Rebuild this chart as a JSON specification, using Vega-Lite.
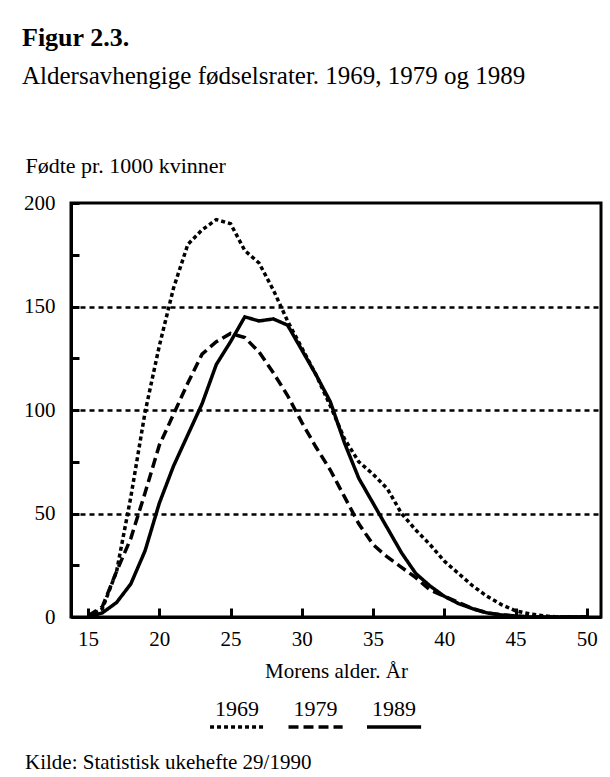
{
  "$schema": "https://vega.github.io/schema/vega-lite/v6.json",
  "background": "white",
  "padding": {"left": 22, "top": 24, "right": 5, "bottom": 5},
  "title": {
    "text": "Figur 2.3.",
    "subtitle": "Aldersavhengige fødselsrater. 1969, 1979 og 1989",
    "anchor": "start",
    "frame": "bounds",
    "font": "Liberation Serif",
    "fontSize": 26,
    "fontWeight": "bold",
    "color": "black",
    "subtitleFont": "Liberation Serif",
    "subtitleFontSize": 25,
    "subtitleColor": "black",
    "subtitlePadding": 13,
    "offset": 64
  },
  "datasets": {
    "rates": [
      {"year": "1969", "age": 15, "rate": 0.5},
      {"year": "1969", "age": 16, "rate": 4},
      {"year": "1969", "age": 17, "rate": 22},
      {"year": "1969", "age": 18, "rate": 58},
      {"year": "1969", "age": 19, "rate": 99},
      {"year": "1969", "age": 20, "rate": 131},
      {"year": "1969", "age": 21, "rate": 159},
      {"year": "1969", "age": 22, "rate": 180},
      {"year": "1969", "age": 23, "rate": 187},
      {"year": "1969", "age": 24, "rate": 192},
      {"year": "1969", "age": 25, "rate": 190},
      {"year": "1969", "age": 26, "rate": 177},
      {"year": "1969", "age": 27, "rate": 171},
      {"year": "1969", "age": 28, "rate": 158},
      {"year": "1969", "age": 29, "rate": 143},
      {"year": "1969", "age": 30, "rate": 130},
      {"year": "1969", "age": 31, "rate": 117},
      {"year": "1969", "age": 32, "rate": 102},
      {"year": "1969", "age": 33, "rate": 86},
      {"year": "1969", "age": 34, "rate": 75},
      {"year": "1969", "age": 35, "rate": 69},
      {"year": "1969", "age": 36, "rate": 62},
      {"year": "1969", "age": 37, "rate": 50},
      {"year": "1969", "age": 38, "rate": 42},
      {"year": "1969", "age": 39, "rate": 35},
      {"year": "1969", "age": 40, "rate": 27},
      {"year": "1969", "age": 41, "rate": 21},
      {"year": "1969", "age": 42, "rate": 15},
      {"year": "1969", "age": 43, "rate": 10},
      {"year": "1969", "age": 44, "rate": 6},
      {"year": "1969", "age": 45, "rate": 3},
      {"year": "1969", "age": 46, "rate": 1.5},
      {"year": "1969", "age": 47, "rate": 0.5},
      {"year": "1969", "age": 48, "rate": 0},
      {"year": "1969", "age": 49, "rate": 0},
      {"year": "1969", "age": 50, "rate": 0},
      {"year": "1979", "age": 15, "rate": 0.5},
      {"year": "1979", "age": 16, "rate": 5},
      {"year": "1979", "age": 17, "rate": 22},
      {"year": "1979", "age": 18, "rate": 38},
      {"year": "1979", "age": 19, "rate": 60},
      {"year": "1979", "age": 20, "rate": 83},
      {"year": "1979", "age": 21, "rate": 98},
      {"year": "1979", "age": 22, "rate": 113},
      {"year": "1979", "age": 23, "rate": 127},
      {"year": "1979", "age": 24, "rate": 133},
      {"year": "1979", "age": 25, "rate": 137},
      {"year": "1979", "age": 26, "rate": 135},
      {"year": "1979", "age": 27, "rate": 128},
      {"year": "1979", "age": 28, "rate": 118},
      {"year": "1979", "age": 29, "rate": 107},
      {"year": "1979", "age": 30, "rate": 94},
      {"year": "1979", "age": 31, "rate": 82},
      {"year": "1979", "age": 32, "rate": 71},
      {"year": "1979", "age": 33, "rate": 58},
      {"year": "1979", "age": 34, "rate": 45},
      {"year": "1979", "age": 35, "rate": 35},
      {"year": "1979", "age": 36, "rate": 29},
      {"year": "1979", "age": 37, "rate": 24},
      {"year": "1979", "age": 38, "rate": 19},
      {"year": "1979", "age": 39, "rate": 13},
      {"year": "1979", "age": 40, "rate": 10},
      {"year": "1979", "age": 41, "rate": 7},
      {"year": "1979", "age": 42, "rate": 4},
      {"year": "1979", "age": 43, "rate": 2},
      {"year": "1979", "age": 44, "rate": 1},
      {"year": "1979", "age": 45, "rate": 0.5},
      {"year": "1979", "age": 46, "rate": 0},
      {"year": "1979", "age": 47, "rate": 0},
      {"year": "1979", "age": 48, "rate": 0},
      {"year": "1979", "age": 49, "rate": 0},
      {"year": "1979", "age": 50, "rate": 0},
      {"year": "1989", "age": 15, "rate": 0},
      {"year": "1989", "age": 16, "rate": 2},
      {"year": "1989", "age": 17, "rate": 7},
      {"year": "1989", "age": 18, "rate": 16},
      {"year": "1989", "age": 19, "rate": 32},
      {"year": "1989", "age": 20, "rate": 55},
      {"year": "1989", "age": 21, "rate": 73},
      {"year": "1989", "age": 22, "rate": 88},
      {"year": "1989", "age": 23, "rate": 103},
      {"year": "1989", "age": 24, "rate": 122},
      {"year": "1989", "age": 25, "rate": 133},
      {"year": "1989", "age": 26, "rate": 145},
      {"year": "1989", "age": 27, "rate": 143},
      {"year": "1989", "age": 28, "rate": 144},
      {"year": "1989", "age": 29, "rate": 141},
      {"year": "1989", "age": 30, "rate": 129},
      {"year": "1989", "age": 31, "rate": 117},
      {"year": "1989", "age": 32, "rate": 104},
      {"year": "1989", "age": 33, "rate": 84},
      {"year": "1989", "age": 34, "rate": 67},
      {"year": "1989", "age": 35, "rate": 55},
      {"year": "1989", "age": 36, "rate": 43},
      {"year": "1989", "age": 37, "rate": 31},
      {"year": "1989", "age": 38, "rate": 21},
      {"year": "1989", "age": 39, "rate": 15},
      {"year": "1989", "age": 40, "rate": 10},
      {"year": "1989", "age": 41, "rate": 6.5},
      {"year": "1989", "age": 42, "rate": 4},
      {"year": "1989", "age": 43, "rate": 2},
      {"year": "1989", "age": 44, "rate": 1},
      {"year": "1989", "age": 45, "rate": 0.5},
      {"year": "1989", "age": 46, "rate": 0},
      {"year": "1989", "age": 47, "rate": 0},
      {"year": "1989", "age": 48, "rate": 0},
      {"year": "1989", "age": 49, "rate": 0},
      {"year": "1989", "age": 50, "rate": 0}
    ],
    "legend": [
      {"year": "1969"},
      {"year": "1979"},
      {"year": "1989"}
    ]
  },
  "vconcat": [
    {
      "width": 530,
      "height": 414,
      "data": {"name": "rates"},
      "view": {"stroke": "black", "strokeWidth": 3},
      "mark": {"type": "line", "strokeWidth": 3.5, "color": "black", "clip": true},
      "encoding": {
        "x": {
          "field": "age",
          "type": "quantitative",
          "scale": {"domain": [13.8, 51], "nice": false, "zero": false},
          "axis": {
            "values": [15, 20, 25, 30, 35, 40, 45, 50],
            "title": "Morens alder. År",
            "grid": false,
            "tickSize": -9,
            "tickWidth": 3,
            "tickColor": "black",
            "domainColor": "black",
            "domainWidth": 3,
            "labelFont": "Liberation Serif",
            "labelFontSize": 21,
            "labelColor": "black",
            "labelPadding": 20,
            "labelFlush": false,
            "titleFont": "Liberation Serif",
            "titleFontSize": 21,
            "titleFontWeight": "normal",
            "titleColor": "black",
            "titlePadding": 11
          }
        },
        "y": {
          "field": "rate",
          "type": "quantitative",
          "scale": {"domain": [0, 200], "nice": false},
          "axis": {
            "values": [0, 25, 50, 75, 100, 125, 150, 175, 200],
            "labelExpr": "datum.value % 50 === 0 ? datum.label : ''",
            "grid": true,
            "gridDash": [5, 4],
            "gridWidth": 2.5,
            "gridColor": "black",
            "gridOpacity": {"condition": {"test": "datum.value % 50 === 0 && datum.value > 0 && datum.value < 200", "value": 1}, "value": 0},
            "tickSize": -8,
            "tickWidth": 3,
            "tickColor": "black",
            "domainColor": "black",
            "domainWidth": 3,
            "labelFont": "Liberation Serif",
            "labelFontSize": 21,
            "labelColor": "black",
            "labelPadding": 24,
            "labelFlush": false,
            "title": "Fødte pr. 1000 kvinner",
            "titleFont": "Liberation Serif",
            "titleFontSize": 22,
            "titleFontWeight": "normal",
            "titleColor": "black",
            "titleAngle": 0,
            "titleAlign": "left",
            "titleBaseline": "alphabetic",
            "titleX": -46,
            "titleY": -31
          }
        },
        "strokeDash": {
          "field": "year",
          "type": "nominal",
          "scale": {"domain": ["1969", "1979", "1989"], "range": [[4, 3], [10, 5], [1, 0]]},
          "legend": null
        }
      }
    },
    {
      "width": 368,
      "height": 30,
      "data": {"name": "legend"},
      "title": {
        "text": "Kilde: Statistisk ukehefte 29/1990",
        "orient": "bottom",
        "anchor": "start",
        "frame": "group",
        "dx": -46,
        "font": "Liberation Serif",
        "fontSize": 21,
        "fontWeight": "normal",
        "color": "black",
        "offset": 21
      },
      "encoding": {
        "x": {
          "field": "year",
          "type": "nominal",
          "scale": {"type": "band", "domain": ["1969", "1979", "1989"], "paddingInner": 0.31, "paddingOuter": 1, "align": 0.886},
          "axis": null
        }
      },
      "layer": [
        {
          "mark": {"type": "text", "fontSize": 22, "font": "Liberation Serif", "color": "black", "baseline": "alphabetic"},
          "encoding": {"text": {"field": "year"}}
        },
        {
          "mark": {"type": "rule", "strokeWidth": 3.5, "color": "black", "yOffset": 11},
          "encoding": {
            "x": {"field": "year", "type": "nominal", "bandPosition": 0},
            "x2": {"field": "year", "bandPosition": 1},
            "strokeDash": {"field": "year", "type": "nominal", "legend": null}
          }
        }
      ]
    }
  ],
  "spacing": 15,
  "config": {"view": {"stroke": null}, "font": "Liberation Serif"}
}
